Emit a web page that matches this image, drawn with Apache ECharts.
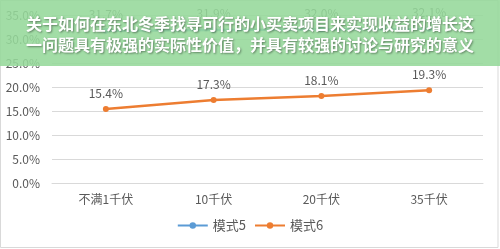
<!DOCTYPE html>
<html>
<head>
<meta charset="utf-8">
<script src="https://cdn.jsdelivr.net/npm/echarts@6/dist/echarts.min.js"></script>
<style>
html,body{margin:0;padding:0;background:#fff;}
#c{width:500px;height:249px;}
</style>
</head>
<body>
<div id="c"></div>
<script>
var titleText = '关于如何在东北冬季找寻可行的小买卖项目来实现收益的增长这\n一问题具有极强的实际性价值，并具有较强的讨论与研究的意义';
var categories = ['不满1千伏', '10千伏', '20千伏', '35千伏'];
var mode5 = [31.7, 31.9, 32.0, 32.1];
var mode6 = [15.4, 17.3, 18.1, 19.3];
var seriesNames = ['模式5', '模式6'];

var font = '"Noto Sans CJK SC", "Noto Sans", sans-serif';
var chart = echarts.init(document.getElementById('c'), null, {renderer: 'canvas'});
function pct(v){ return v.toFixed(1) + '%'; }
chart.setOption({
  animation: false,
  backgroundColor: '#ffffff',
  textStyle: {fontFamily: font},
  title: {
    text: titleText,
    left: 'center',
    top: 8,
    z: 60,
    textStyle: {
      color: '#ffffff', fontSize: 16, fontWeight: 'bold', lineHeight: 21,
      fontFamily: font,
      textShadowColor: 'rgba(0,0,0,0.4)', textShadowBlur: 2, textShadowOffsetX: 1, textShadowOffsetY: 1
    }
  },
  grid: {left: 52, right: 17, top: 15, bottom: 66, containLabel: false},
  legend: {
    data: seriesNames,
    bottom: 12,
    left: 'center',
    itemWidth: 30,
    itemHeight: 8,
    itemGap: 8,
    textStyle: {color: '#595959', fontSize: 13, fontFamily: font}
  },
  xAxis: {
    type: 'category',
    data: categories,
    boundaryGap: true,
    axisLine: {show: true, lineStyle: {color: '#d9d9d9'}},
    axisTick: {show: false},
    axisLabel: {color: '#595959', fontSize: 12, margin: 10, fontFamily: font}
  },
  yAxis: {
    type: 'value',
    min: 0, max: 35, interval: 5,
    axisLine: {show: false},
    axisTick: {show: false},
    splitLine: {lineStyle: {color: '#d9d9d9', width: 1}},
    axisLabel: {color: '#595959', fontSize: 12, margin: 12, fontFamily: font, formatter: function(v){return v.toFixed(1) + '%';}}
  },
  series: [
    {
      name: seriesNames[0], type: 'line', data: mode5,
      symbol: 'circle', symbolSize: 6,
      lineStyle: {color: '#5b9bd5', width: 2.5},
      itemStyle: {color: '#5b9bd5'},
      label: {show: true, position: 'top', distance: 7, color: '#595959', fontSize: 12, formatter: function(p){return pct(p.value);}}
    },
    {
      name: seriesNames[1], type: 'line', data: mode6,
      symbol: 'circle', symbolSize: 6,
      lineStyle: {color: '#ed7d31', width: 2.5},
      itemStyle: {color: '#ed7d31'},
      label: {show: true, position: 'top', distance: 7, color: '#595959', fontSize: 12, formatter: function(p){return pct(p.value);}}
    }
  ],
  graphic: [
    {type: 'rect', z: 50, shape: {x: 0, y: 0, width: 500, height: 66}, style: {fill: 'rgba(149,216,154,0.88)'}},
    {type: 'rect', z: 40, shape: {x: 0.5, y: 0.5, width: 497.5, height: 247}, style: {fill: 'none', stroke: '#d9d9d9', lineWidth: 1}}
  ]
});
</script>
</body>
</html>
